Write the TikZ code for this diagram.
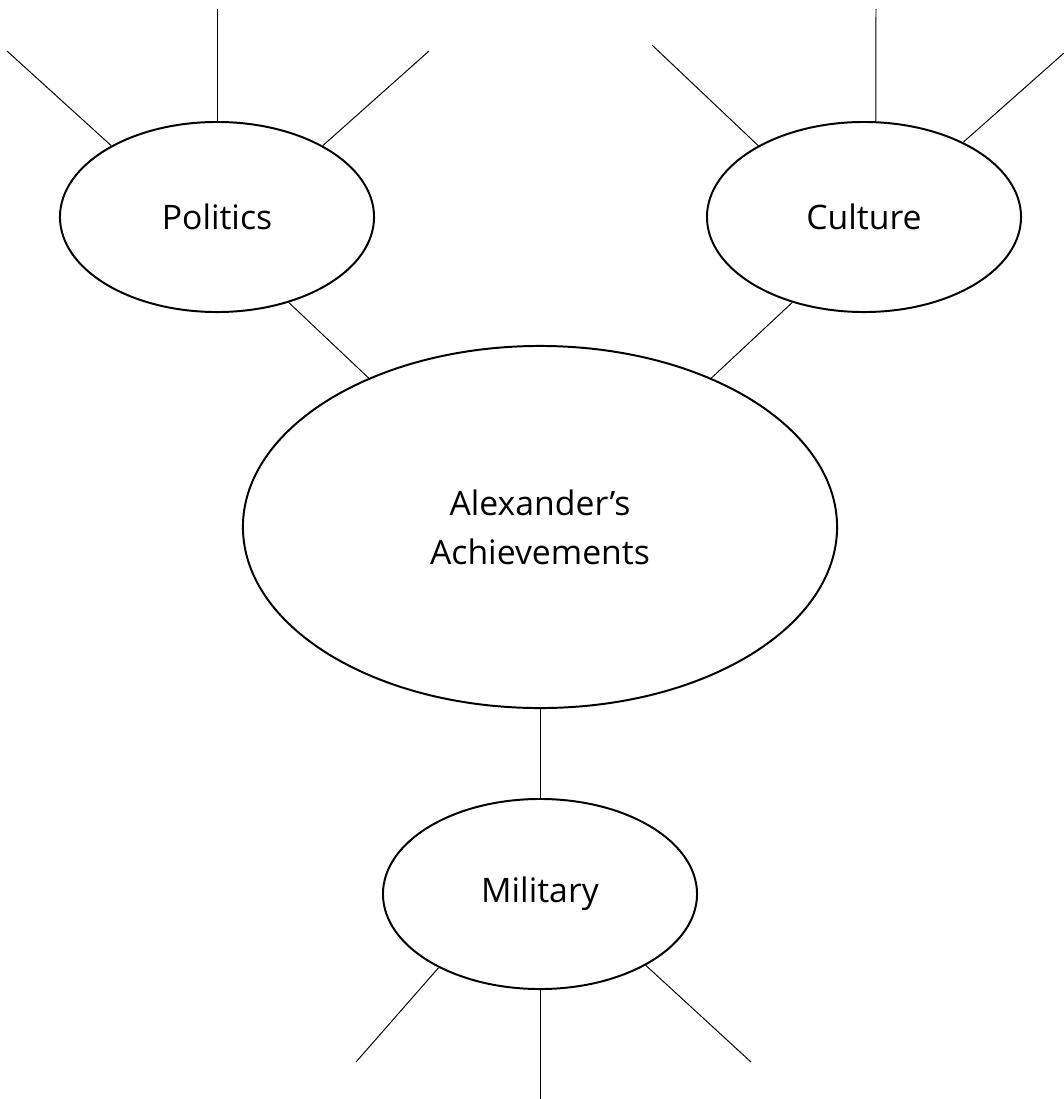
\documentclass[tikz,border=0pt]{standalone}
\usepackage{fontspec}
\setmainfont{Open Sans}
\usepackage{xcolor}
\usetikzlibrary{shapes.geometric}
\definecolor{mapink}{RGB}{0, 0, 0}

\begin{document}
\begin{tikzpicture}[x=0.025cm, y=-0.025cm,
    topic/.style={ellipse, draw=mapink, line width=1.4pt, inner sep=0pt, minimum width=7.85cm, minimum height=4.75cm, font=\fontsize{24}{35}\selectfont},
    spoke/.style={draw=mapink, line width=0.7pt}]
                \useasboundingbox (0,0) rectangle (1064,1099);

                % Central topic
                \node[topic, minimum width=14.85cm, minimum height=9.05cm, align=center] (core) at (540,527) {Alexander’s\\Achievements};

                % Three branches
                \node[topic] (politics) at (217,217) {Politics};
                \node[topic] (culture) at (864,217) {Culture};
                \node[topic] (military) at (540,894) {Military};

                \draw[spoke] (politics.-50) -- (core.139);
                \draw[spoke] (culture.230) -- (core.41);
                \draw[spoke] (core.south) -- (military.north);

                % Free ends of the sub-branches
                \coordinate (pol1) at (7,51);
                \coordinate (pol2) at (217,9);
                \coordinate (pol3) at (429,51);
                \coordinate (cul1) at (652,45);
                \coordinate (cul2) at (876,9);
                \coordinate (cul3) at (1064,53);
                \coordinate (mil1) at (356,1062);
                \coordinate (mil2) at (540,1099);
                \coordinate (mil3) at (751,1062);

                \foreach \a/\c in {146/pol1, 90/pol2, 34/pol3} {
                    \draw[spoke] (politics.\a) -- (\c);
                }
                \foreach \a/\c in {146/cul1, 83/cul2, 37/cul3} {
                    \draw[spoke] (culture.\a) -- (\c);
                }
                \foreach \a/\c in {216/mil1, 270/mil2, 326/mil3} {
                    \draw[spoke] (military.\a) -- (\c);
                }
            \end{tikzpicture}
\end{document}
